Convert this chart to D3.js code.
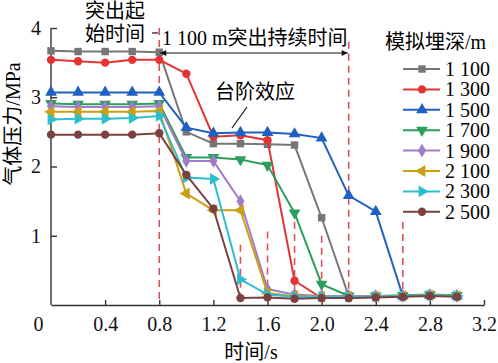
<!DOCTYPE html>
<meta charset="utf-8">
<style>
body { margin: 0; background: #fff; }
svg { font-family: "Liberation Serif", "Noto Sans CJK SC", serif; }
.axis path, .axis line { stroke: #333; stroke-width: 1.4px; }
.axis text { font-size: 20px; fill: #111; font-family: "Liberation Serif", serif; }
.series { fill: none; stroke-width: 2px; }
.guide { stroke: #e0505a; stroke-width: 1.6px; stroke-dasharray: 7,5; }
</style>
<svg width="498" height="363"></svg>
<script src="https://cdn.jsdelivr.net/npm/d3@7"></script>
<script>
// time axis, s
var times = [0, 0.2, 0.4, 0.6, 0.8, 1.0, 1.2, 1.4, 1.6, 1.8, 2.0, 2.2, 2.4, 2.6, 2.8, 3.0];
var depths = ["1 100", "1 300", "1 500", "1 700", "1 900", "2 100", "2 300", "2 500"];

// gas pressure, MPa
var p1100 = [3.67, 3.66, 3.66, 3.66, 3.65, 2.50, 2.33, 2.33, 2.32, 2.31, 1.26, 0.13, 0.12, 0.13, 0.14, 0.13];
var p1300 = [3.54, 3.52, 3.50, 3.54, 3.54, 3.34, 2.43, 2.45, 2.38, 0.35, 0.10, 0.11, 0.12, 0.13, 0.14, 0.13];
var p1500 = [3.07, 3.07, 3.07, 3.07, 3.07, 2.56, 2.48, 2.49, 2.49, 2.47, 2.41, 1.58, 1.35, 0.13, 0.14, 0.13];
var p1700 = [2.91, 2.90, 2.90, 2.90, 2.91, 2.13, 2.13, 2.10, 2.02, 1.33, 0.30, 0.13, 0.13, 0.14, 0.15, 0.14];
var p1900 = [2.87, 2.86, 2.86, 2.86, 2.87, 2.08, 2.08, 1.50, 0.23, 0.15, 0.13, 0.13, 0.13, 0.13, 0.14, 0.13];
var p2100 = [2.79, 2.79, 2.79, 2.79, 2.80, 1.61, 1.37, 1.37, 0.17, 0.13, 0.12, 0.12, 0.12, 0.13, 0.14, 0.13];
var p2300 = [2.68, 2.69, 2.69, 2.70, 2.73, 1.84, 1.82, 0.37, 0.15, 0.12, 0.12, 0.12, 0.12, 0.13, 0.14, 0.13];
var p2500 = [2.46, 2.46, 2.46, 2.46, 2.48, 1.88, 1.39, 0.10, 0.11, 0.09, 0.10, 0.10, 0.11, 0.12, 0.13, 0.12];

var xTicks = [0, 0.4, 0.8, 1.2, 1.6, 2.0, 2.4, 2.8, 3.2];
var yTicks = [1, 2, 3, 4];

// dashed red guides: time and top value
var guideT = [0.8, 2.2, 1.4, 1.6, 1.8, 2.0, 2.6];
var guideTop = [4.0, 3.8, 0.87, 1.06, 1.2, 1.0, 1.2];

var colors = ["#767676", "#e53333", "#2060c0", "#2c9e5c", "#a07cc8", "#c9a012", "#2cbfcc", "#7b4040"];
var shapes = [
  [d3.symbolSquare, 0], [d3.symbolCircle, 0], [d3.symbolTriangle, 0], [d3.symbolTriangle, 180],
  [d3.symbolDiamond, 0], [d3.symbolTriangle, -90], [d3.symbolTriangle, 90], [d3.symbolCircle, 0]
];
var values = [p1100, p1300, p1500, p1700, p1900, p2100, p2300, p2500];

var svg = d3.select("svg");
var x = d3.scaleLinear().domain([0, 3.2]).range([51, 484]);
var y = d3.scaleLinear().domain([0, 4]).range([305, 28]);

// axes
var xAxis = svg.append("g").attr("class", "axis")
    .attr("transform", "translate(0," + y(0) + ")")
    .call(d3.axisBottom(x).tickValues(xTicks).tickSizeInner(-5).tickSizeOuter(0)
      .tickPadding(12).tickFormat(function(d) { return d === 0 ? "0" : d3.format(".1f")(d); }));
xAxis.selectAll(".tick text")
    .attr("dx", function(d) { return d === 0 ? -13 : 0; });
xAxis.selectAll(".tick").filter(function(d) { return d === 0; }).select("line").remove();

var yAxis = svg.append("g").attr("class", "axis")
    .attr("transform", "translate(" + x(0) + ",0)")
    .call(d3.axisLeft(y).tickValues(yTicks).tickSizeInner(-6).tickSizeOuter(0)
      .tickPadding(10).tickFormat(d3.format("d")));
yAxis.select(".domain").attr("d", "M0," + y(0) + "V" + y(4));

svg.append("text").attr("transform", "translate(20," + 124 + ") rotate(-90)")
    .attr("text-anchor", "middle").attr("font-size", 20).text("气体压力/MPa");
svg.append("text").attr("x", 251).attr("y", 359)
    .attr("text-anchor", "middle").attr("font-size", 20).text("时间/s");

// guides
svg.selectAll(".guide").data(guideT).enter().append("line")
    .attr("class", "guide")
    .attr("x1", function(d) { return x(d); }).attr("x2", function(d) { return x(d); })
    .attr("y1", function(d, i) { return y(guideTop[i]); }).attr("y2", y(0));

// series
var line = d3.line().x(function(d, i) { return x(times[i]); }).y(function(d) { return y(d); });
values.forEach(function(vals, k) {
  var g = svg.append("g");
  g.append("path").attr("class", "series").attr("stroke", colors[k]).attr("d", line(vals));
  g.selectAll("path.m").data(vals).enter().append("path").attr("class", "m")
      .attr("d", d3.symbol().type(shapes[k][0]).size(shapes[k][0] === d3.symbolTriangle ? 60 : 55))
      .attr("fill", colors[k])
      .attr("transform", function(d, i) {
        return "translate(" + x(times[i]) + "," + y(d) + ") rotate(" + shapes[k][1] + ")";
      });
});

// annotations
svg.append("defs").append("marker").attr("id", "ah").attr("viewBox", "0 0 10 10")
    .attr("refX", 10).attr("refY", 5).attr("markerWidth", 9).attr("markerHeight", 6)
    .attr("orient", "auto-start-reverse").attr("markerUnits", "userSpaceOnUse")
  .append("path").attr("d", "M0,0L10,5L0,10Z").attr("fill", "#111");
svg.append("line").attr("x1", x(0.8) + 1).attr("x2", x(2.2) - 1)
    .attr("y1", 53).attr("y2", 53).attr("stroke", "#111").attr("stroke-width", 1.2)
    .attr("marker-start", "url(#ah)").attr("marker-end", "url(#ah)");
svg.append("text").attr("x", 85).attr("y", 18).attr("font-size", 20).text("突出起");
svg.append("text").attr("x", 85).attr("y", 41).attr("font-size", 20).text("始时间");
svg.append("line").attr("x1", 152).attr("x2", 158).attr("y1", 33).attr("y2", 33)
    .attr("stroke", "#111").attr("stroke-width", 1.2);
svg.append("text").attr("x", 162).attr("y", 45).attr("font-size", 20).text("1 100 m突出持续时间");
svg.append("text").attr("x", 215).attr("y", 99).attr("font-size", 20).text("台阶效应");
svg.append("line").attr("x1", 247).attr("y1", 107).attr("x2", 232).attr("y2", 128)
    .attr("stroke", "#111").attr("stroke-width", 1.2);

// legend
var leg = svg.append("g");
leg.append("text").attr("x", 385).attr("y", 49).attr("font-size", 20).text("模拟埋深/m");
depths.forEach(function(name, k) {
  var ly = 69 + k * 20.4;
  leg.append("line").attr("x1", 403).attr("x2", 440).attr("y1", ly).attr("y2", ly)
      .attr("stroke", colors[k]).attr("stroke-width", 2);
  leg.append("path").attr("d", d3.symbol().type(shapes[k][0]).size(shapes[k][0] === d3.symbolTriangle ? 60 : 55))
      .attr("fill", colors[k]).attr("transform", "translate(422," + ly + ") rotate(" + shapes[k][1] + ")");
  leg.append("text").attr("x", 445).attr("y", ly + 7).attr("font-size", 20).text(name);
});
</script>
